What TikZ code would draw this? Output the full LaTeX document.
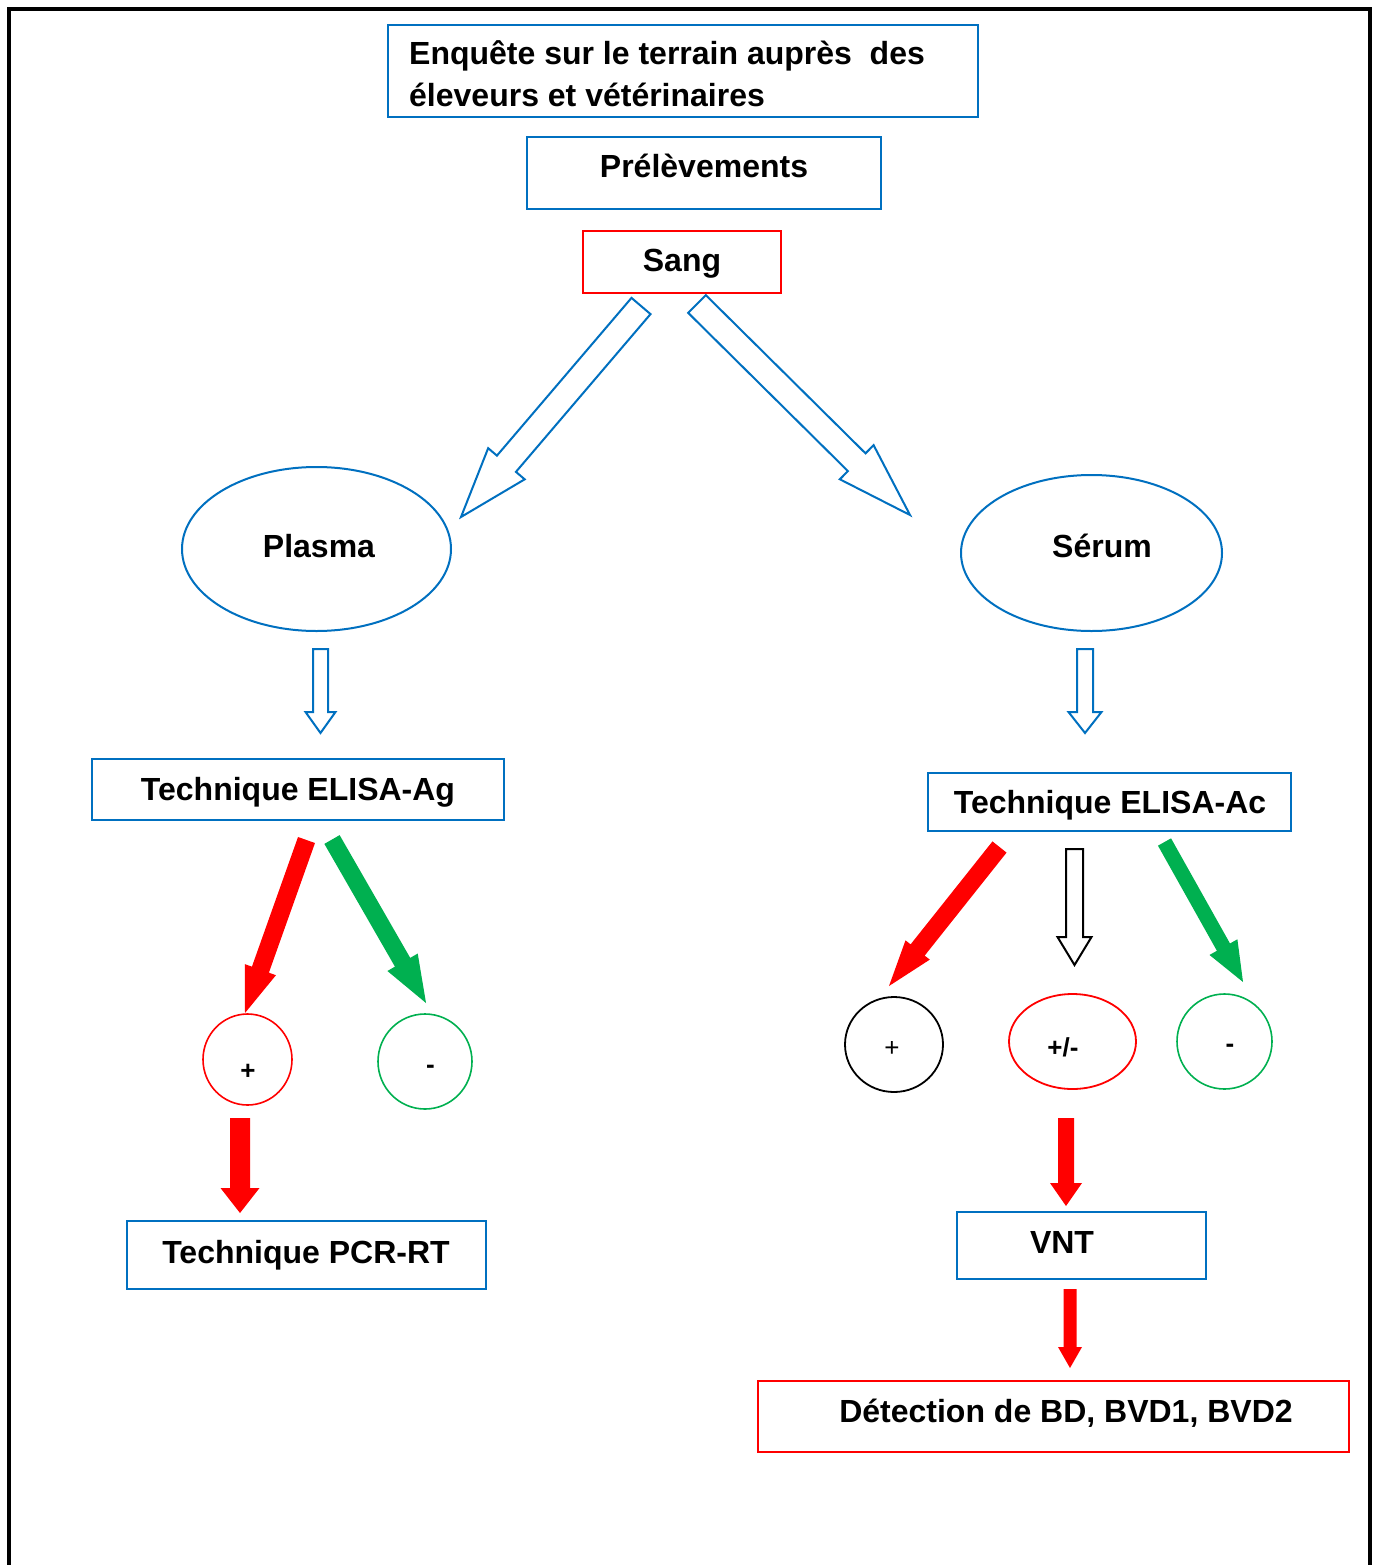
\documentclass[tikz,border=0pt]{standalone}
\usepackage{fontspec}
\setmainfont{Liberation Sans}
\usetikzlibrary{calc,shapes.geometric}
\definecolor{obl}{HTML}{0070C0}
\definecolor{ored}{HTML}{FF0000}
\definecolor{ogr}{HTML}{00B050}
% #1 style, #2 tail, #3 tip, #4 shaft half width, #5 head half width, #6 head length
\newcommand{\blockarr}[6]{%
  \coordinate (bh) at ($(#3)!#6!(#2)$);
  \path[#1] ($(#2)!#4!90:(#3)$) -- ($(bh)!#4!-90:(#2)$) -- ($(bh)!#5!-90:(#2)$) -- (#3)
    -- ($(bh)!#5!90:(#2)$) -- ($(bh)!#4!90:(#2)$) -- ($(#2)!#4!-90:(#3)$) -- cycle;
}
\begin{document}
\begin{tikzpicture}[x=1pt,y=-1pt,
  box/.style={draw=obl, line width=2pt, rectangle, inner sep=0pt},
  rbox/.style={draw=ored, line width=2pt, rectangle, inner sep=0pt},
  oval/.style={ellipse, inner sep=0pt, line width=2pt},
  lbl/.style={font=\fontsize{32}{38}\selectfont\bfseries, inner sep=0pt},
  sml/.style={font=\fontsize{26}{30}\selectfont\bfseries, inner sep=0pt, anchor=base},
  hollowblue/.style={draw=obl, line width=2pt, fill=white, line join=miter},
  hollowblack/.style={draw=black, line width=2pt, fill=white, line join=miter},
  redarr/.style={fill=ored},
  greenarr/.style={fill=ogr}]
\useasboundingbox (0,0) rectangle (1380,1565);
\fill[white] (0,0) rectangle (1380,1565);
% frame
\draw[line width=4pt, line join=miter] (9,1565) -- (9,9) -- (1370,9) -- (1370,1565);

% boxes
\node[box, minimum width=590pt, minimum height=92pt] (enq) at (683,71) {};
\node[box, minimum width=354pt, minimum height=72pt] (prel) at (704,173) {};
\node[rbox, minimum width=198pt, minimum height=62pt] (sang) at (682,262) {};
\node[box, minimum width=412pt, minimum height=61pt] (ag) at (298,789.5) {};
\node[box, minimum width=363pt, minimum height=58pt] (ac) at (1109.5,802) {};
\node[box, minimum width=359pt, minimum height=68pt] (pcr) at (306.5,1255) {};
\node[box, minimum width=249pt, minimum height=67pt] (vnt) at (1081.5,1245.5) {};
\node[rbox, minimum width=591pt, minimum height=71pt] (det) at (1053.5,1416.5) {};

% ellipses
\node[oval, draw=obl, minimum width=269pt, minimum height=164pt] (plasma) at (316.5,549) {};
\node[oval, draw=obl, minimum width=261pt, minimum height=156pt] (serum) at (1091.5,553) {};
\node[oval, draw=ored, line width=1.6pt, minimum width=89pt, minimum height=91pt] (cp1) at (247.5,1059.5) {};
\node[oval, draw=ogr, line width=1.6pt, minimum width=94pt, minimum height=95pt] (cm1) at (425,1061.5) {};
\node[oval, draw=black, line width=1.8pt, minimum width=98pt, minimum height=95pt] (cp2) at (894,1044.5) {};
\node[oval, draw=ored, line width=1.8pt, minimum width=127pt, minimum height=95pt] (cpm) at (1072.5,1041.5) {};
\node[oval, draw=ogr, line width=1.6pt, minimum width=95pt, minimum height=95pt] (cm2) at (1224.5,1041.5) {};

% texts
\node[lbl, anchor=base west] (tenq1) at (409,65) {Enquête sur le terrain auprès~~des};
\node[lbl, anchor=base west] (tenq2) at (409,107) {éleveurs et vétérinaires};
\node[lbl, anchor=base] (tprel) at (704,178) {Prélèvements};
\node[lbl, anchor=base] (tsang) at (682,271) {Sang};
\node[lbl, anchor=base] (tplasma) at (319,557) {Plasma};
\node[lbl, anchor=base] (tserum) at (1102,557) {Sérum};
\node[lbl, anchor=base] (tag) at (298,800) {Technique ELISA-Ag};
\node[lbl, anchor=base] (tac) at (1110,813) {Technique ELISA-Ac};
\node[lbl, anchor=base] (tpcr) at (306,1263) {Technique PCR-RT};
\node[lbl, anchor=base] (tvnt) at (1062,1253) {VNT};
\node[lbl, anchor=base] (tdet) at (1066,1422) {Détection de BD, BVD1, BVD2};
\node[sml] (tp1) at (248,1079) {+};
\node[sml] (tm1) at (430.5,1073) {-};
\node[sml, font=\fontsize{26}{30}\selectfont] (tp2) at (892,1056) {+};
\node[sml] (tpm) at (1063,1056) {+/-};
\node[sml] (tm2) at (1230,1052) {-};

% arrow end points
\coordinate (a1t) at (641,306);   \coordinate (a1h) at (461,517);
\coordinate (a2t) at (697,304);   \coordinate (a2h) at (910,515);
\coordinate (a3t) at (320.5,649); \coordinate (a3h) at (320.5,733);
\coordinate (a4t) at (1085,649);  \coordinate (a4h) at (1085,733);
\coordinate (a5t) at (306.5,840); \coordinate (a5h) at (245,1013);
\coordinate (a6t) at (332,839.5); \coordinate (a6h) at (426,1003);
\coordinate (a7t) at (240,1118);  \coordinate (a7h) at (240,1213);
\coordinate (a8t) at (999.5,847); \coordinate (a8h) at (889,986);
\coordinate (a9t) at (1074.5,849);\coordinate (a9h) at (1074.5,965);
\coordinate (a10t) at (1164.5,842); \coordinate (a10h) at (1243,982);
\coordinate (a11t) at (1066,1118);  \coordinate (a11h) at (1066,1206);
\coordinate (a12t) at (1070,1289);  \coordinate (a12h) at (1070,1368);

\blockarr{hollowblue}{a1t}{a1h}{12.5pt}{24pt}{70pt}
\blockarr{hollowblue}{a2t}{a2h}{12.5pt}{24pt}{75pt}
\blockarr{hollowblue}{a3t}{a3h}{7.5pt}{15pt}{21pt}
\blockarr{hollowblue}{a4t}{a4h}{8pt}{16.5pt}{21pt}
\blockarr{redarr}{a5t}{a5h}{9pt}{16.5pt}{46pt}
\blockarr{greenarr}{a6t}{a6h}{8.8pt}{17.5pt}{47pt}
\blockarr{redarr}{a7t}{a7h}{10pt}{19.5pt}{25pt}
\blockarr{redarr}{a8t}{a8h}{9pt}{15.5pt}{46pt}
\blockarr{hollowblack}{a9t}{a9h}{8.5pt}{17pt}{28pt}
\blockarr{greenarr}{a10t}{a10h}{7.5pt}{16pt}{40pt}
\blockarr{redarr}{a11t}{a11h}{8pt}{16pt}{23pt}
\blockarr{redarr}{a12t}{a12h}{6.5pt}{12pt}{21pt}
\end{tikzpicture}
\end{document}
